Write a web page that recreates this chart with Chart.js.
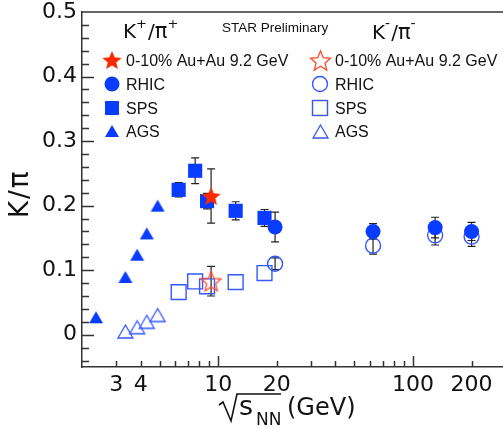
<!DOCTYPE html>
<html>
<head>
<meta charset="utf-8">
<script src="https://cdn.jsdelivr.net/npm/chart.js@4.4.1/dist/chart.umd.min.js"></script>
<style>
html, body { margin: 0; padding: 0; background: #fff; }
#wrap { position: relative; width: 503px; height: 428px; }
</style>
</head>
<body>
<div id="wrap"><canvas id="chart"></canvas></div>
<script>
// sqrt(s_NN) in GeV, ratios
const starEnergy = [9.2];
const kpStar = [0.215];
const kpStarErr = [0.042];
const kmStar = [0.083];
const kmStarErr = [0.023];

const rhicEnergy = [19.6, 62.4, 130, 200];
const kpRhic = [0.167, 0.160, 0.166, 0.160];
const kpRhicErr = [0.023, 0.012, 0.016, 0.014];
const kmRhic = [0.110, 0.138, 0.154, 0.152];
const kmRhicErr = [0.009, 0.013, 0.015, 0.015];

const spsEnergy = [6.27, 7.62, 8.77, 12.3, 17.3];
const kpSps = [0.2245, 0.254, 0.207, 0.192, 0.181];
const kpSpsErr = [0.011, 0.020, 0.012, 0.014, 0.013];
const kmSps = [0.066, 0.0825, 0.075, 0.0815, 0.0955];

const kpAgsEnergy = [2.36, 3.34, 3.84, 4.30, 4.89];
const kpAgs = [0.027, 0.0895, 0.124, 0.157, 0.200];
const kmAgsEnergy = [3.34, 3.84, 4.30, 4.89];
const kmAgs = [0.005, 0.0116, 0.020, 0.0305];

const xTickLabels = [3, 4, 10, 20, 100, 200];
const xMinorTicks = [3, 4, 5, 6, 7, 8, 9, 20, 30, 40, 50, 60, 70, 80, 90, 200];
const xMajorTicks = [10, 100];
const yTickLabels = [0, 0.1, 0.2, 0.3, 0.4, 0.5];

const blue = '#0a3cff';
const blueOpen = '#3558ff';
const red = '#ff2a00';
const redOpen = '#ff4a2a';

function makeStar(r, fill, stroke) {
    const c = document.createElement('canvas');
    const s = Math.ceil(2 * r + 4);
    c.width = s;
    c.height = s;
    const g = c.getContext('2d');
    g.translate(s / 2, s / 2 + r * 0.1);
    g.beginPath();
    for (let i = 0; i < 10; i++) {
        const a = -Math.PI / 2 + i * Math.PI / 5;
        const rr = i % 2 ? r * 0.45 : r;
        g.lineTo(Math.cos(a) * rr, Math.sin(a) * rr);
    }
    g.closePath();
    if (fill) { g.fillStyle = fill; g.fill(); }
    if (stroke) { g.strokeStyle = stroke; g.lineWidth = 1.3; g.stroke(); }
    return c;
}

function makeTriangle(w, h, fill, stroke) {
    const c = document.createElement('canvas');
    c.width = w + 4;
    c.height = h + 4;
    const g = c.getContext('2d');
    g.beginPath();
    g.moveTo(c.width / 2, 2);
    g.lineTo(c.width - 2, h + 2);
    g.lineTo(2, h + 2);
    g.closePath();
    if (fill) { g.fillStyle = fill; g.fill(); }
    if (stroke) { g.strokeStyle = stroke; g.lineWidth = 1.3; g.stroke(); }
    return c;
}

const starFull = makeStar(10, red, null);
const starOpen = makeStar(10.5, null, redOpen);
const triFull = makeTriangle(14, 12, blue, null);
const triOpen = makeTriangle(15, 13, null, blueOpen);

const toPoints = (xs, ys) => xs.map((x, i) => ({ x: x, y: ys[i] }));

const datasets = [
    { label: 'K+ 9.2', data: toPoints(starEnergy, kpStar), errors: kpStarErr,
      pointStyle: starFull, pointRadius: 10 },
    { label: 'K- 9.2', data: toPoints(starEnergy, kmStar), errors: kmStarErr,
      pointStyle: starOpen, pointRadius: 10 },
    { label: 'K+ RHIC', data: toPoints(rhicEnergy, kpRhic), errors: kpRhicErr,
      pointStyle: 'circle', pointRadius: 7.5, backgroundColor: blue, borderColor: blue, borderWidth: 0 },
    { label: 'K- RHIC', data: toPoints(rhicEnergy, kmRhic), errors: kmRhicErr,
      pointStyle: 'circle', pointRadius: 7.5, backgroundColor: 'rgba(0,0,0,0)', borderColor: blueOpen, borderWidth: 1.4 },
    { label: 'K+ SPS', data: toPoints(spsEnergy, kpSps), errors: kpSpsErr,
      pointStyle: 'rect', pointRadius: 10, backgroundColor: blue, borderColor: blue, borderWidth: 0 },
    { label: 'K- SPS', data: toPoints(spsEnergy, kmSps),
      pointStyle: 'rect', pointRadius: 10.5, backgroundColor: 'rgba(0,0,0,0)', borderColor: blueOpen, borderWidth: 1.4 },
    { label: 'K+ AGS', data: toPoints(kpAgsEnergy, kpAgs),
      pointStyle: triFull, pointRadius: 8 },
    { label: 'K- AGS', data: toPoints(kmAgsEnergy, kmAgs),
      pointStyle: triOpen, pointRadius: 8 },
];

// vertical error bars with small caps, drawn under the markers
const errorBars = {
    id: 'errorBars',
    beforeDatasetsDraw(chart) {
        const ctx = chart.ctx;
        const xs = chart.scales.x, ys = chart.scales.y;
        ctx.save();
        ctx.strokeStyle = '#222';
        ctx.lineWidth = 1.2;
        chart.data.datasets.forEach(ds => {
            if (!ds.errors) return;
            ds.data.forEach((p, i) => {
                const px = xs.getPixelForValue(p.x);
                const top = ys.getPixelForValue(p.y + ds.errors[i]);
                const bot = ys.getPixelForValue(p.y - ds.errors[i]);
                ctx.beginPath();
                ctx.moveTo(px, top); ctx.lineTo(px, bot);
                ctx.moveTo(px - 4, top); ctx.lineTo(px + 4, top);
                ctx.moveTo(px - 4, bot); ctx.lineTo(px + 4, bot);
                ctx.stroke();
            });
        });
        ctx.restore();
    }
};

// ROOT style frame: top line and inward tick marks
const frame = {
    id: 'frame',
    afterDraw(chart) {
        const ctx = chart.ctx;
        const a = chart.chartArea;
        const xs = chart.scales.x, ys = chart.scales.y;
        ctx.save();
        ctx.strokeStyle = '#333';
        ctx.lineWidth = 1.5;
        ctx.beginPath();
        ctx.moveTo(a.left, a.top);
        ctx.lineTo(a.right, a.top);
        xMinorTicks.forEach(v => {
            const px = Math.round(xs.getPixelForValue(v)) + 0.5;
            ctx.moveTo(px, a.bottom); ctx.lineTo(px, a.bottom - 6);
        });
        xMajorTicks.forEach(v => {
            const px = Math.round(xs.getPixelForValue(v)) + 0.5;
            ctx.moveTo(px, a.bottom); ctx.lineTo(px, a.bottom - 11);
        });
        for (let k = -2; k <= 24; k++) {
            const v = k * 0.02;
            const py = Math.round(ys.getPixelForValue(v)) + 0.5;
            const len = k % 5 === 0 ? 12 : 7;
            ctx.moveTo(a.left, py); ctx.lineTo(a.left + len, py);
        }
        ctx.stroke();
        ctx.restore();
    }
};

function drawRich(ctx, parts, x, y) {
    parts.forEach(p => {
        ctx.font = p.size + 'px ' + (p.family || '"DejaVu Sans"');
        x += p.pad || 0;
        ctx.fillText(p.t, x, y + (p.dy || 0));
        x += ctx.measureText(p.t).width;
    });
}

function drawMarker(ctx, kind, x, y) {
    ctx.save();
    ctx.lineWidth = 1.4;
    if (kind === 'circle' || kind === 'circleOpen') {
        ctx.beginPath();
        ctx.arc(x, y, 7.5, 0, Math.PI * 2);
        if (kind === 'circle') { ctx.fillStyle = blue; ctx.fill(); }
        else { ctx.strokeStyle = blueOpen; ctx.stroke(); }
    } else if (kind === 'rect') {
        ctx.fillStyle = blue;
        ctx.fillRect(x - 7, y - 7, 14, 14);
    } else if (kind === 'rectOpen') {
        ctx.strokeStyle = blueOpen;
        ctx.strokeRect(x - 7.5, y - 7.5, 15, 15);
    } else {
        ctx.drawImage(kind, Math.round(x - kind.width / 2), Math.round(y - kind.height / 2));
    }
    ctx.restore();
}

const legendRowsY = [60, 84, 108, 131];
const legendTexts = ['0-10% Au+Au 9.2 GeV', 'RHIC', 'SPS', 'AGS'];

const labels = {
    id: 'labels',
    afterDraw(chart) {
        const ctx = chart.ctx;
        ctx.save();
        ctx.fillStyle = '#111';
        ctx.textBaseline = 'alphabetic';
        ctx.textAlign = 'left';

        // legend headers
        drawRich(ctx, [
            { t: 'K', size: 20 }, { t: '+', size: 13, dy: -10 },
            { t: '/', size: 20, pad: 1 }, { t: 'π', size: 21 }, { t: '+', size: 13, dy: -10 }
        ], 123, 38);
        drawRich(ctx, [
            { t: 'K', size: 20 }, { t: '-', size: 14, dy: -11 },
            { t: '/', size: 20, pad: 1 }, { t: 'π', size: 21 }, { t: '-', size: 14, dy: -11 }
        ], 372, 39);
        ctx.font = '13.5px "Liberation Sans"';
        ctx.fillText('STAR Preliminary', 222, 32);

        // legend entries
        const left = [starFull, 'circle', 'rect', triFull];
        const right = [starOpen, 'circleOpen', 'rectOpen', triOpen];
        legendRowsY.forEach((y, i) => {
            drawMarker(ctx, left[i], 112, y);
            drawMarker(ctx, right[i], 320, y);
            ctx.fillStyle = '#111';
            ctx.font = '16px "Liberation Sans"';
            ctx.fillText(legendTexts[i], 126, y + 6);
            ctx.fillText(legendTexts[i], 335, y + 6);
        });

        // y axis title
        ctx.save();
        ctx.translate(28, 190);
        ctx.rotate(-Math.PI / 2);
        ctx.textAlign = 'left';
        drawRich(ctx, [
            { t: 'K', size: 26 }, { t: '/', size: 26, pad: 2 }, { t: 'π', size: 28, pad: 2 }
        ], -28, 0);
        ctx.restore();

        // x axis title: sqrt(s_NN) (GeV)
        ctx.strokeStyle = '#111';
        ctx.lineWidth = 1.6;
        ctx.beginPath();
        ctx.moveTo(219, 405);
        ctx.lineTo(223, 402);
        ctx.lineTo(231, 421);
        ctx.lineTo(237, 394);
        ctx.lineTo(281, 394);
        ctx.stroke();
        drawRich(ctx, [{ t: 's', size: 27 }], 239, 415);
        drawRich(ctx, [{ t: 'NN', size: 17 }], 256, 425);
        drawRich(ctx, [{ t: '(GeV)', size: 24 }], 287, 415);
        ctx.restore();
    }
};

const ctx = document.getElementById('chart');
new Chart(ctx, {
    type: 'scatter',
    data: { datasets: datasets },
    options: {
        responsive: true,
        maintainAspectRatio: false,
        animation: false,
        events: [],
        layout: { autoPadding: false, padding: { top: 12, right: 0, left: 0, bottom: 0 } },
        plugins: {
            legend: { display: false },
            tooltip: { enabled: false },
        },
        scales: {
            x: {
                type: 'logarithmic',
                min: 2,
                max: 290,
                afterFit: s => {
                    s.height = 61;
                    s.paddingLeft = 0;
                    s.paddingRight = 0;
                },
                afterBuildTicks: s => { s.ticks = xTickLabels.map(v => ({ value: v })); },
                grid: { display: false, drawTicks: false },
                border: { display: true, color: '#333', width: 1.5 },
                ticks: {
                    color: '#111',
                    font: { family: 'DejaVu Sans', size: 22 },
                    padding: 5,
                    maxRotation: 0,
                    autoSkip: false,
                    callback: v => String(v),
                },
            },
            y: {
                min: -0.05,
                max: 0.5,
                afterFit: s => {
                    s.width = 82;
                    s.paddingTop = 0;
                    s.paddingBottom = 0;
                },
                afterBuildTicks: s => { s.ticks = yTickLabels.map(v => ({ value: v })); },
                grid: { display: false, drawTicks: false },
                border: { display: true, color: '#333', width: 1.5 },
                ticks: {
                    color: '#111',
                    font: { family: 'DejaVu Sans', size: 22 },
                    padding: 5,
                    callback: v => (v === 0 ? '0' : v.toFixed(1)),
                },
            },
        },
    },
    plugins: [errorBars, frame, labels],
});
</script>
</body>
</html>
